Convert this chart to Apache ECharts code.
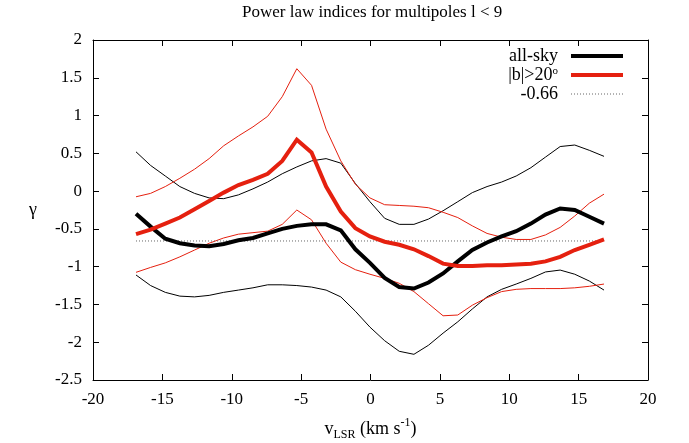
<!DOCTYPE html>
<html>
<head>
<meta charset="utf-8">
<script src="https://cdn.jsdelivr.net/npm/echarts@6/dist/echarts.min.js"></script>
<style>
  html, body { margin: 0; padding: 0; background: #fff; }
  #chart { width: 689px; height: 443px; }
</style>
</head>
<body>
<div id="chart"></div>
<script>
// LSR velocity of each channel (km/s)
const velocities = [
  -16.90, -15.85, -14.79, -13.74, -12.68, -11.63, -10.58, -9.52, -8.47, -7.41,
  -6.36, -5.31, -4.25, -3.20, -2.14, -1.09, -0.04, 1.02, 2.07, 3.13,
  4.18, 5.23, 6.29, 7.34, 8.40, 9.45, 10.50, 11.56, 12.61, 13.67,
  14.72, 15.77, 16.83
];

// Power-law index, whole sky, with upper / lower envelope
const allSky = [
  -0.30, -0.47, -0.63, -0.69, -0.72, -0.73, -0.70, -0.65, -0.62, -0.56,
  -0.50, -0.46, -0.44, -0.44, -0.52, -0.77, -0.95, -1.15, -1.27, -1.29,
  -1.21, -1.09, -0.93, -0.78, -0.68, -0.60, -0.53, -0.43, -0.31, -0.23,
  -0.25, -0.34, -0.43
];
const allSkyUpper = [
  0.52, 0.34, 0.20, 0.06, -0.03, -0.09, -0.10, -0.05, 0.03, 0.12,
  0.23, 0.32, 0.40, 0.43, 0.37, 0.10, -0.14, -0.36, -0.44, -0.44,
  -0.37, -0.26, -0.14, -0.02, 0.06, 0.12, 0.20, 0.31, 0.45, 0.59,
  0.61, 0.54, 0.46
];
const allSkyLower = [
  -1.11, -1.25, -1.34, -1.39, -1.40, -1.38, -1.34, -1.31, -1.28, -1.24,
  -1.24, -1.25, -1.27, -1.31, -1.40, -1.59, -1.80, -1.98, -2.12, -2.16,
  -2.04, -1.88, -1.73, -1.56, -1.40, -1.30, -1.23, -1.155, -1.07, -1.045,
  -1.10, -1.19, -1.31
];

// Power-law index, |b| > 20 deg, with upper / lower envelope
const highLat = [
  -0.57, -0.51, -0.43, -0.35, -0.24, -0.13, -0.02, 0.08, 0.15, 0.23,
  0.40, 0.68, 0.51, 0.06, -0.27, -0.49, -0.60, -0.67, -0.71, -0.77,
  -0.86, -0.96, -0.99, -0.99, -0.98, -0.98, -0.97, -0.96, -0.93, -0.87,
  -0.78, -0.71, -0.64
];
const highLatUpper = [
  -0.075, -0.03, 0.06, 0.17, 0.29, 0.43, 0.60, 0.73, 0.85, 0.99,
  1.25, 1.62, 1.40, 0.82, 0.40, 0.09, -0.09, -0.18, -0.19, -0.20,
  -0.22, -0.28, -0.35, -0.46, -0.56, -0.61, -0.64, -0.64, -0.58, -0.48,
  -0.33, -0.16, -0.04
];
const highLatLower = [
  -1.075, -1.01, -0.95, -0.87, -0.78, -0.69, -0.62, -0.57, -0.55, -0.53,
  -0.44, -0.25, -0.38, -0.69, -0.94, -1.04, -1.10, -1.155, -1.22, -1.33,
  -1.49, -1.65, -1.64, -1.51, -1.41, -1.33, -1.30, -1.29, -1.29, -1.29,
  -1.28, -1.26, -1.23
];

// Reference index level
const referenceIndex = -0.66;

const legendText = { 'all-sky': 'all-sky', '|b|>20': '|b|>20{sup|o}', '-0.66': '-0.66' };

const SERIF = 'Liberation Serif';
const RED = '#e5200f';
const DOT = '#666';
const pairs = ys => velocities.map((v, i) => [v, ys[i]]);

const frameAxis = (extra) => Object.assign({
  type: 'value',
  axisLine: { show: true, onZero: false, lineStyle: { color: '#000', width: 1 } },
  axisTick: { show: true, inside: true, length: 6, lineStyle: { color: '#000', width: 1 } },
  splitLine: { show: false },
  axisLabel: { show: false }
}, extra);

const labelStyle = { show: true, color: '#000', fontFamily: SERIF, fontSize: 17 };

const chart = echarts.init(document.getElementById('chart'), null, { renderer: 'canvas' });

chart.setOption({
  animation: false,
  backgroundColor: '#fff',
  title: {
    text: 'Power law indices for multipoles l < 9',
    left: 242,
    top: 4,
    padding: 0,
    textStyle: { fontFamily: SERIF, fontSize: 17, fontWeight: 'normal', color: '#000' }
  },
  // fixed plot rectangle; labels and names are not allowed to shrink it
  grid: { left: 93, right: 41, top: 40, bottom: 63, containLabel: false, outerBoundsMode: 'none' },
  legend: {
    orient: 'vertical',
    right: 64,
    top: 47,
    padding: 0,
    align: 'right',
    itemWidth: 52,
    itemHeight: 14,
    itemGap: 1,
    selectedMode: false,
    formatter: name => legendText[name],
    textStyle: {
      fontFamily: SERIF, fontSize: 18, color: '#000', padding: [0, 8, 0, 0],
      rich: { sup: { fontFamily: SERIF, fontSize: 11, verticalAlign: 'top', color: '#000' } }
    },
    // line-only keys: the marker symbol is made fully transparent
    data: [
      { name: 'all-sky', itemStyle: { color: '#000', opacity: 0 }, lineStyle: { color: '#000', width: 4 } },
      { name: '|b|>20', itemStyle: { color: RED, opacity: 0 }, lineStyle: { color: RED, width: 4 } },
      { name: '-0.66', itemStyle: { color: DOT, opacity: 0 }, lineStyle: { color: DOT, width: 1, type: [1, 2] } }
    ]
  },
  xAxis: [
    frameAxis({
      position: 'bottom', min: -20, max: 20, interval: 5,
      axisLabel: Object.assign({ margin: 11 }, labelStyle),
      name: '{n|v}{sub|LSR}{n| (km s}{sup|-1}{n|)}',
      nameLocation: 'middle',
      nameGap: 37,
      nameTextStyle: {
        rich: {
          n: { fontFamily: SERIF, fontSize: 18, color: '#000', lineHeight: 24 },
          sub: { fontFamily: SERIF, fontSize: 12, color: '#000', verticalAlign: 'bottom' },
          sup: { fontFamily: SERIF, fontSize: 12, color: '#000', verticalAlign: 'top' }
        }
      }
    }),
    frameAxis({ position: 'top', min: -20, max: 20, interval: 5 })
  ],
  yAxis: [
    frameAxis({
      position: 'left', min: -2.5, max: 2, interval: 0.5,
      axisLabel: Object.assign({ margin: 11 }, labelStyle),
      name: 'γ',
      nameLocation: 'middle',
      nameRotate: 0,
      nameGap: 56,
      nameTextStyle: { fontFamily: SERIF, fontSize: 18, color: '#000' }
    }),
    frameAxis({ position: 'right', min: -2.5, max: 2, interval: 0.5 })
  ],
  series: [
    { name: 'all-sky upper', type: 'line', data: pairs(allSkyUpper), symbol: 'none', lineStyle: { color: '#000', width: 1 }, z: 2 },
    { name: 'all-sky lower', type: 'line', data: pairs(allSkyLower), symbol: 'none', lineStyle: { color: '#000', width: 1 }, z: 2 },
    { name: '|b|>20 upper', type: 'line', data: pairs(highLatUpper), symbol: 'none', lineStyle: { color: RED, width: 1 }, z: 2 },
    { name: '|b|>20 lower', type: 'line', data: pairs(highLatLower), symbol: 'none', lineStyle: { color: RED, width: 1 }, z: 2 },
    {
      name: '-0.66', type: 'line', symbol: 'none', z: 3,
      data: [[velocities[0], referenceIndex], [velocities[velocities.length - 1], referenceIndex]],
      itemStyle: { color: DOT },
      lineStyle: { color: DOT, width: 1, type: [1, 2] }
    },
    { name: 'all-sky', type: 'line', data: pairs(allSky), symbol: 'none', itemStyle: { color: '#000' }, lineStyle: { color: '#000', width: 4, join: 'miter' }, z: 4 },
    { name: '|b|>20', type: 'line', data: pairs(highLat), symbol: 'none', itemStyle: { color: RED }, lineStyle: { color: RED, width: 4, join: 'miter' }, z: 5 }
  ]
});
</script>
</body>
</html>
